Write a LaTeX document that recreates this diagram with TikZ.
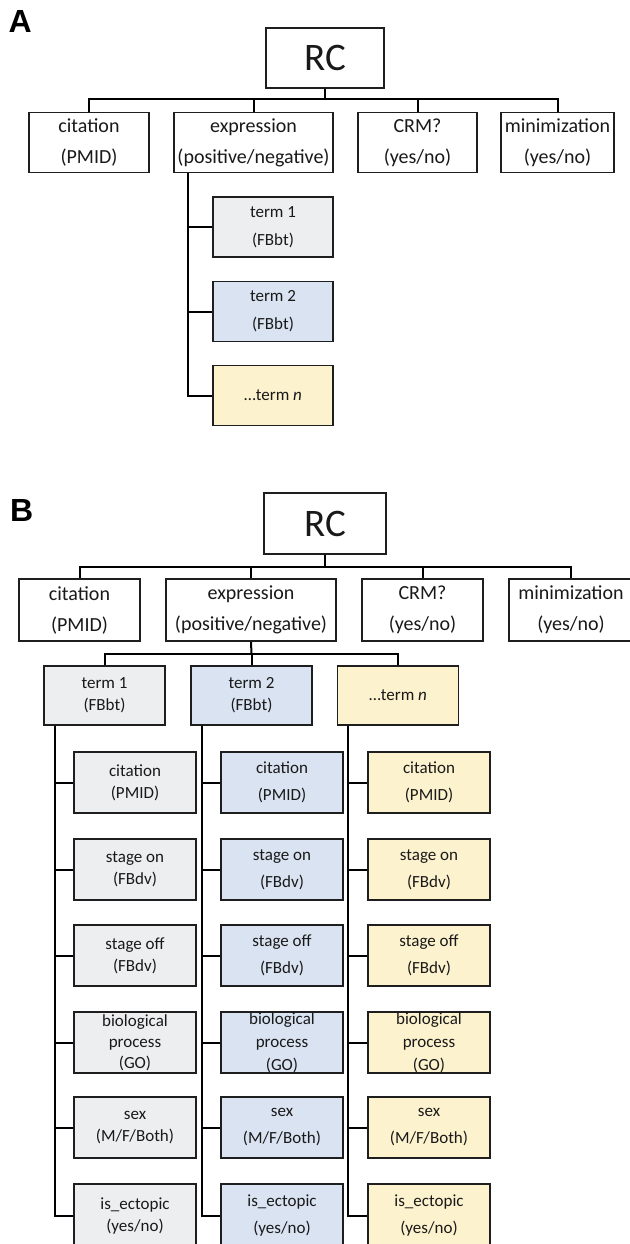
\documentclass[tikz,border=0pt]{standalone}
\usepackage{fontspec}
\setmainfont{Carlito}
\newfontfamily\lblfont{Liberation Sans}
\definecolor{gfill}{HTML}{EDEEF0}
\definecolor{bfill}{HTML}{DAE3F2}
\definecolor{yfill}{HTML}{FDF2CE}
\definecolor{edge}{HTML}{1E1E1E}
\newcommand{\mkcol}[5]{%
 \node[#3] (#1a) at (#2,782.5) {citation\\(PMID)};
 \node[#3] (#1b) at (#2,869.5) {stage on\\(FBdv)};
 \node[#3] (#1c) at (#2,955.5) {stage off\\(FBdv)};
 \node[#5] (#1d) at (#2,1042.5) {biological\\process\\(GO)};
 \node[#3] (#1e) at (#2,1127.5) {sex\\(M/F/Both)};
 \node[#3,minimum height=64pt] (#1f) at (#2,1216) {is\_ectopic\\(yes/no)};
 \foreach \k in {a,b,c,d,e,f} \draw[conn] ([xshift=11.5pt]#4.south west) |- (#1\k.west);
}
\begin{document}
\begin{tikzpicture}[x=1pt,y=-1pt,
  box/.style={draw=edge, line width=1.6pt, inner sep=0pt, align=center, text=black!90},
  toplvl/.style={box, fill=white, minimum height=60pt, font=\fontsize{20}{31}\selectfont},
  rootbox/.style={box, fill=white, minimum width=118pt, minimum height=60pt, font=\fontsize{39}{39}\selectfont},
  termA/.style={box, minimum width=120pt, minimum height=60pt, font=\fontsize{17}{28}\selectfont},
  termB/.style={box, minimum width=121pt, minimum height=59pt, font=\fontsize{17}{22}\selectfont},
  subA/.style={box, fill=gfill, minimum width=122pt, minimum height=61pt, font=\fontsize{17}{22}\selectfont},
  subAbio/.style={subA, font=\fontsize{17}{21}\selectfont},
  subB/.style={box, minimum width=122pt, minimum height=61pt, font=\fontsize{17}{27}\selectfont},
  subBbio/.style={subB, font=\fontsize{17}{23}\selectfont},
  conn/.style={line width=2pt, black},
  lbl/.style={inner sep=0pt, anchor=base west, font=\lblfont\bfseries\fontsize{32}{32}\selectfont}]
\useasboundingbox (0,0) rectangle (629,1244);
% ---------------- Panel A ----------------
\node[lbl] (labA) at (8.5,33) {A};
\node[rootbox] (rcA) at (325,58) {RC};
\node[toplvl, minimum width=120pt] (citA) at (89,142.5) {citation\\(PMID)};
\node[toplvl, minimum width=159pt] (expA) at (253.5,142.5) {expression\\(positive/negative)};
\node[toplvl, minimum width=119pt] (crmA) at (417.5,142.5) {CRM?\\(yes/no)};
\node[toplvl, minimum width=113pt] (minA) at (557.5,142.5) {minimization\\(yes/no)};
\coordinate (busA) at (325,99);
\draw[conn] (rcA.south) -- (busA);
\foreach \n in {citA,expA,crmA,minA} \draw[conn] (\n.north) |- (busA);
\node[termA, fill=gfill] (tA1) at (273,227) {term 1\\(FBbt)};
\node[termA, fill=bfill] (tA2) at (273,311.5) {term 2\\(FBbt)};
\node[termA, fill=yfill] (tA3) at (273,395.5) {…term \textit{n}};
\foreach \n in {tA1,tA2,tA3} \draw[conn] ([xshift=15pt]expA.south west) |- (\n.west);
% ---------------- Panel B ----------------
\node[lbl] (labB) at (10,521) {B};
\node[rootbox, minimum width=122pt, minimum height=61pt] (rcB) at (325,523.5) {RC};
\node[toplvl, minimum width=121pt, minimum height=62pt] (citB) at (79.5,610) {citation\\(PMID)};
\node[toplvl, minimum width=170pt, minimum height=62pt] (expB) at (251,610) {expression\\(positive/negative)};
\node[toplvl, minimum width=121pt, minimum height=62pt] (crmB) at (422.5,610) {CRM?\\(yes/no)};
\node[toplvl, minimum width=124pt, minimum height=62pt] (minB) at (571,610) {minimization\\(yes/no)};
\coordinate (busB) at (325,567);
\draw[conn] (rcB.south) -- (busB);
\foreach \n in {citB,expB,crmB,minB} \draw[conn] (\n.north) |- (busB);
\node[termB, fill=gfill] (tB1) at (104.5,695.5) {term 1\\(FBbt)};
\node[termB, fill=bfill] (tB2) at (251.5,695.5) {term 2\\(FBbt)};
\node[termB, fill=yfill] (tB3) at (398,695.5) {…term \textit{n}};
\coordinate (sbusB) at (251.5,654);
\draw[conn] (expB.south) -- (sbusB);
\foreach \n in {tB1,tB2,tB3} \draw[conn] (\n.north) |- (sbusB);
\mkcol{ca}{135}{subA}{tB1}{subAbio}
\mkcol{cb}{282}{subB,fill=bfill}{tB2}{subBbio,fill=bfill}
\mkcol{cc}{429}{subB,fill=yfill}{tB3}{subBbio,fill=yfill}
\end{tikzpicture}
\end{document}
